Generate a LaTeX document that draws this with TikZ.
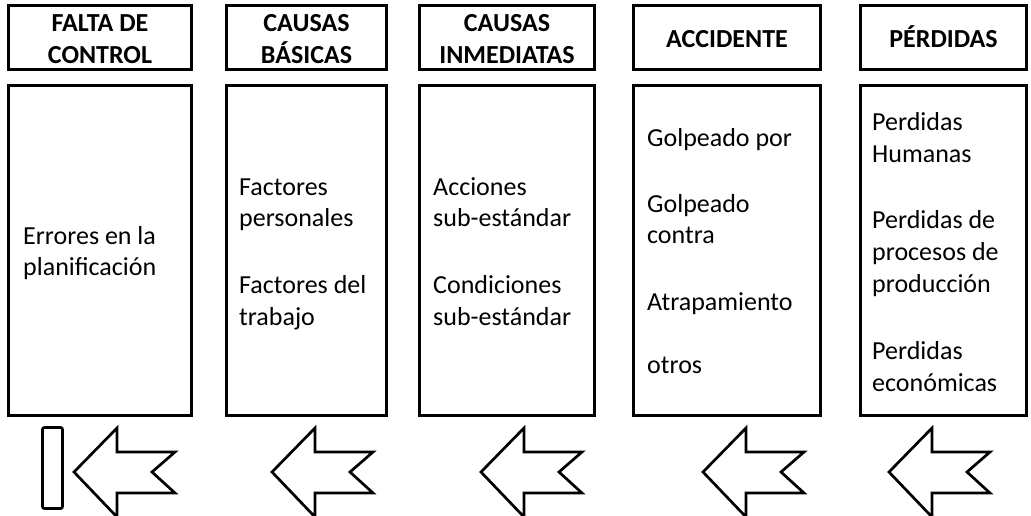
\documentclass[tikz,border=0pt]{standalone}
\usepackage{fontspec}
\setmainfont{Carlito}
\usepackage{tikz}

\tikzset{
  box/.style={draw, line width=2.7pt, inner sep=0pt},
  head/.style={font=\fontsize{26}{31.7}\selectfont\bfseries, inner sep=0pt, anchor=base},
  item/.style={inner sep=0pt, anchor=base west},
  blockarrow/.style={draw, line width=2.7pt, line join=miter}
}

\begin{document}
\begin{tikzpicture}[x=1pt, y=-1pt, font=\fontsize{26}{31.7}\selectfont]
\useasboundingbox (0,0) rectangle (1031,515);

% header boxes
\node[box, minimum width=183.3pt, minimum height=64.3pt] (h1) at (100,37.5) {};
\node[box, minimum width=160.3pt, minimum height=64.3pt] (h2) at (306.5,37.5) {};
\node[box, minimum width=175.3pt, minimum height=64.3pt] (h3) at (507,37.5) {};
\node[box, minimum width=187.3pt, minimum height=64.3pt] (h4) at (727,37.5) {};
\node[box, minimum width=166.3pt, minimum height=64.3pt] (h5) at (943.5,37.5) {};

% body boxes
\node[box, minimum width=183.3pt, minimum height=330.3pt] (b1) at (100,250.5) {};
\node[box, minimum width=160.3pt, minimum height=330.3pt] (b2) at (306.5,250.5) {};
\node[box, minimum width=175.3pt, minimum height=330.3pt] (b3) at (507,250.5) {};
\node[box, minimum width=187.3pt, minimum height=330.3pt] (b4) at (727,250.5) {};
\node[box, minimum width=166.3pt, minimum height=330.3pt] (b5) at (943.5,250.5) {};

% titles
\node[head] (h1a) at (100,31.5) {FALTA DE};
\node[head] (h1b) at (100,63) {CONTROL};
\node[head] (h2a) at (306.5,31.5) {CAUSAS};
\node[head] (h2b) at (306.5,63) {BÁSICAS};
\node[head] (h3a) at (507,31.5) {CAUSAS};
\node[head] (h3b) at (507,63) {INMEDIATAS};
\node[head] (h4a) at (727,47) {ACCIDENTE};
\node[head] (h5a) at (943.5,47) {PÉRDIDAS};

% contents
\node[item] (t1a) at (23,244) {Errores en la};
\node[item] (t1b) at (23,275.5) {planificación};

\node[item] (t2a) at (239,195) {Factores};
\node[item] (t2b) at (239,226.5) {personales};
\node[item] (t2c) at (239,293) {Factores del};
\node[item] (t2d) at (239,325) {trabajo};

\node[item] (t3a) at (433,195) {Acciones};
\node[item] (t3b) at (433,226.5) {sub-estándar};
\node[item] (t3c) at (433,293) {Condiciones};
\node[item] (t3d) at (433,325) {sub-estándar};

\node[item] (t4a) at (647,146) {Golpeado por};
\node[item] (t4b) at (647,212) {Golpeado};
\node[item] (t4c) at (647,243.5) {contra};
\node[item] (t4d) at (647,310) {Atrapamiento};
\node[item] (t4e) at (647,373) {otros};

\node[item] (t5a) at (872,130) {Perdidas};
\node[item] (t5b) at (872,162) {Humanas};
\node[item] (t5c) at (872,228) {Perdidas de};
\node[item] (t5d) at (872,260) {procesos de};
\node[item] (t5e) at (872,292) {producción};
\node[item] (t5f) at (872,359) {Perdidas};
\node[item] (t5g) at (872,391) {económicas};

% arrows
\draw[blockarrow, rounded corners=2pt] (42.5,427.5) rectangle (62.5,508.5);
\foreach \t in {74,272,481,703,889}
  \draw[blockarrow] (\t,472) -- ++(43,-44) -- ++(0,24) -- ++(58,0) -- ++(-23,20)
    -- ++(23,21) -- ++(-58,0) -- ++(0,24) -- cycle;

\end{tikzpicture}
\end{document}
